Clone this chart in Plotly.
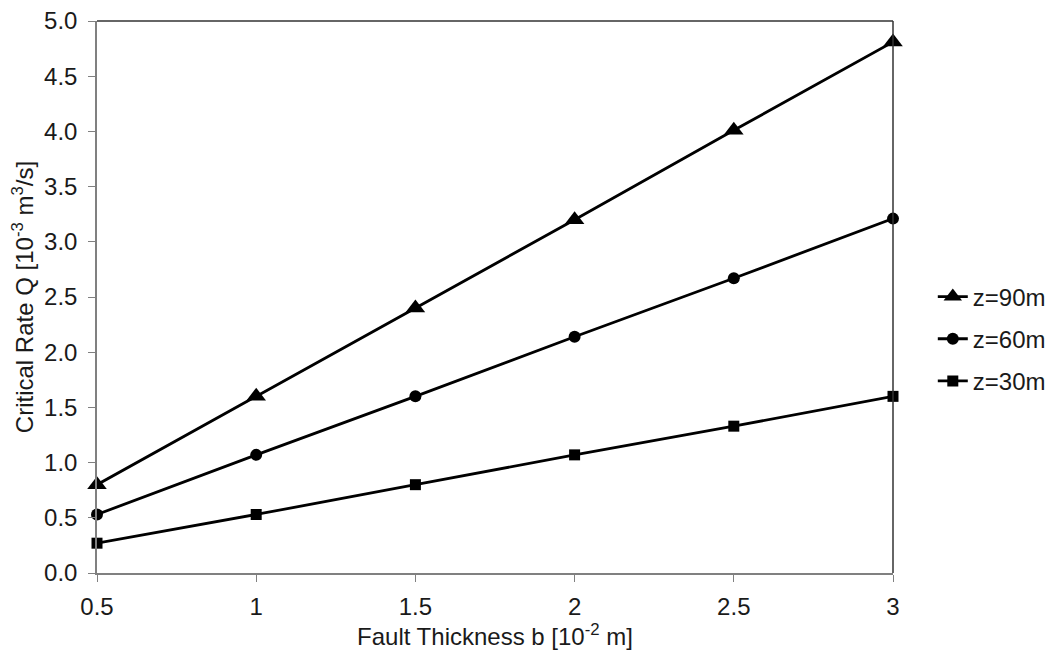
import plotly.graph_objects as go

thickness = [0.5, 1, 1.5, 2, 2.5, 3]
q_z90 = [0.80, 1.60, 2.40, 3.20, 4.01, 4.81]
q_z60 = [0.53, 1.07, 1.60, 2.14, 2.67, 3.21]
q_z30 = [0.27, 0.53, 0.80, 1.07, 1.33, 1.60]

x_ticks = [0.5, 1, 1.5, 2, 2.5, 3]
x_tick_text = ["0.5", "1", "1.5", "2", "2.5", "3"]
y_ticks = [0, 0.5, 1, 1.5, 2, 2.5, 3, 3.5, 4, 4.5, 5]
y_tick_text = ["0.0", "0.5", "1.0", "1.5", "2.0", "2.5", "3.0", "3.5", "4.0", "4.5", "5.0"]

font = "Liberation Sans, Arial, sans-serif"
txt = "#1a1a1a"

fig = go.Figure()
series = [
    ("z=90m", q_z90, "triangle-up", 17),
    ("z=60m", q_z60, "circle", 12),
    ("z=30m", q_z30, "square", 11),
]
for i, (name, ys, sym, sz) in enumerate(series):
    fig.add_trace(go.Scatter(
        x=thickness, y=ys, name=name, mode="lines+markers",
        legendgroup="g%d" % i,
        line=dict(color="black", width=2.8),
        marker=dict(symbol=sym, size=sz, color="black"),
        cliponaxis=False,
    ))

# body margin of the html page is 8px; compensate so the plot area lands at 97..893 x 21..573
fig.update_layout(
    width=1051, height=643,
    margin=dict(l=89, r=166, t=13, b=78, autoexpand=False),
    paper_bgcolor="white", plot_bgcolor="white",
    font=dict(family=font, size=24, color=txt),
    showlegend=True,
    legend=dict(x=1.05, y=0.424, xanchor="left", yanchor="middle",
                font=dict(size=24, color=txt), itemsizing="trace",
                tracegroupgap=8, bgcolor="rgba(0,0,0,0)"),
    xaxis=dict(range=[0.5, 3], tickvals=x_ticks, ticktext=x_tick_text,
               showgrid=False, zeroline=False, showline=True,
               linecolor="#808080", linewidth=1.5, mirror=False,
               ticks="outside", ticklen=7, tickcolor="#808080",
               ticklabelstandoff=4, ticklabeloverflow="allow", automargin=False,
               title=dict(text="Fault Thickness b [10<sup>-2</sup> m]",
                          font=dict(size=24), standoff=4),
               tickfont=dict(size=24)),
    yaxis=dict(range=[0, 5], tickvals=y_ticks, ticktext=y_tick_text,
               showgrid=False, zeroline=False, showline=True,
               linecolor="#808080", linewidth=1.5,
               ticks="outside", ticklen=7, tickcolor="#808080",
               ticklabelstandoff=6, ticklabeloverflow="allow", automargin=False,
               title=dict(text="Critical Rate Q [10<sup>-3</sup> m<sup>3</sup>/s]",
                          font=dict(size=24), standoff=6),
               tickfont=dict(size=24)),
)
# top and right border of plot box
fig.add_shape(type="line", xref="paper", yref="paper", x0=0, x1=1, y0=1, y1=1,
              line=dict(color="#333", width=1.5))
fig.add_shape(type="line", xref="paper", yref="paper", x0=1, x1=1, y0=0, y1=1,
              line=dict(color="#333", width=1.5))

fig.write_html("out.html")
